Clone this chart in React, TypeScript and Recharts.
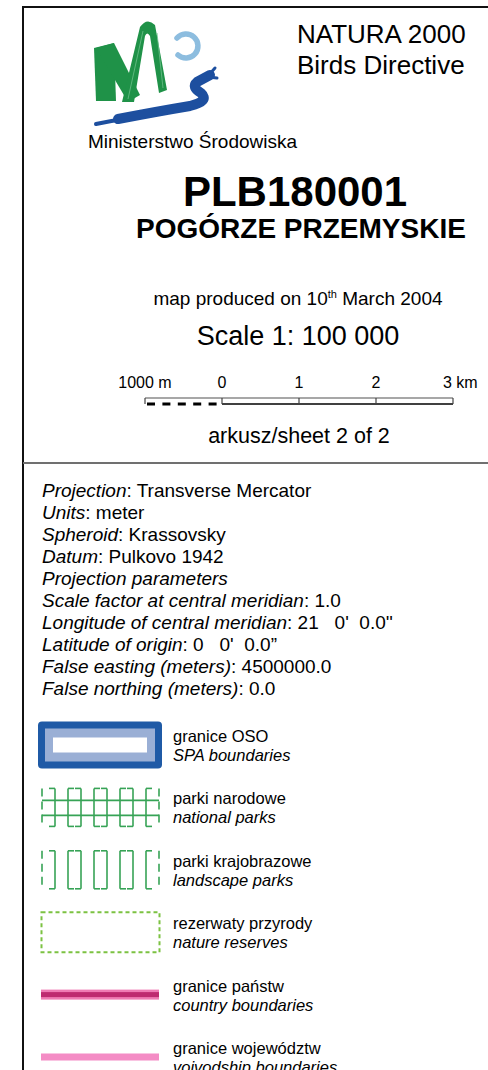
import React from "react";
import { ComposedChart, Line, XAxis, YAxis, ReferenceLine } from "recharts";

const FONT = '"Liberation Sans", Arial, Helvetica, sans-serif';

// scale bar (km)
const SCALE_KM = [-1, 0, 1, 2, 3];
const SCALE_LABELS = ["1000 m", "0", "1", "2", "3 km"];

// projection block
const PROJ_KEYS = [
  "Projection",
  "Units",
  "Spheroid",
  "Datum",
  "Projection parameters",
  "Scale factor at central meridian",
  "Longitude of central meridian",
  "Latitude of origin",
  "False easting (meters)",
  "False northing (meters)",
];
const PROJ_VALUES = [
  "Transverse Mercator",
  "meter",
  "Krassovsky",
  "Pulkovo 1942",
  "",
  "1.0",
  "21   0'  0.0''",
  "0   0'  0.0\u201d",
  "4500000.0",
  "0.0",
];

// legend
const LEGEND_PL = [
  "granice OSO",
  "parki narodowe",
  "parki krajobrazowe",
  "rezerwaty przyrody",
  "granice państw",
  "granice województw",
];
const LEGEND_EN = [
  "SPA boundaries",
  "national parks",
  "landscape parks",
  "nature reserves",
  "country boundaries",
  "voivodship boundaries",
];
const LEGEND_KIND = ["spa", "national", "landscape", "reserve", "country", "voivodship"];

const scaleRows = SCALE_KM.map((km) => ({ km, top: 1, base: km >= 0 ? 0 : null }));

const ScaleTick = (props: any) => {
  const { x, payload } = props;
  const i = SCALE_KM.indexOf(payload.value);
  const last = i === SCALE_KM.length - 1;
  return (
    <text
      x={last ? x - 10 : x}
      y={18}
      textAnchor={last ? "start" : "middle"}
      fontSize={16}
      fontFamily={FONT}
      fill="#000"
    >
      {SCALE_LABELS[i]}
    </text>
  );
};

function ScaleBar() {
  return (
    <ComposedChart
      width={390}
      height={36}
      data={scaleRows}
      margin={{ top: 0, right: 27, bottom: 2, left: 55 }}
    >
      <XAxis
        dataKey="km"
        type="number"
        domain={[-1, 3]}
        ticks={SCALE_KM}
        interval={0}
        orientation="top"
        height={28}
        axisLine={false}
        tickLine={false}
        tick={<ScaleTick />}
      />
      <YAxis type="number" domain={[0, 1]} hide />
      <Line dataKey="top" stroke="#8a8a8a" strokeWidth={1.6} dot={false} isAnimationActive={false} />
      <Line dataKey="base" stroke="#000" strokeWidth={1.5} dot={false} isAnimationActive={false} />
      <ReferenceLine
        segment={[{ x: -1, y: 0 }, { x: 0, y: 0 }]}
        stroke="#000"
        strokeWidth={3}
        strokeDasharray="8 7.4"
        strokeDashoffset={-2}
      />
      {SCALE_KM.map((km) => (
        <ReferenceLine
          key={km}
          segment={[{ x: km, y: 0 }, { x: km, y: 1 }]}
          stroke="#444"
          strokeWidth={1.2}
        />
      ))}
    </ComposedChart>
  );
}

const GREEN = "#37a356";

function ParkSymbol({ cy, national }: { cy: number; national: boolean }) {
  const top = cy - 19;
  const bot = cy + 19;
  const xs = Array.from({ length: 10 }, (_, i) => 42 + i * 13);
  return (
    <g stroke={GREEN} strokeWidth={1.6} fill="none">
      {xs.map((x, i) => {
        const edge = i === 0 || i === xs.length - 1;
        const dir = i % 2 === 0 ? 1 : -1;
        return (
          <g key={i}>
            <line x1={x} y1={top} x2={x} y2={bot} strokeDasharray={edge ? "8 5" : undefined} />
            {!edge && <line x1={x} y1={top} x2={x + dir * 6} y2={top} />}
            {!edge && <line x1={x} y1={bot} x2={x + dir * 6} y2={bot} />}
          </g>
        );
      })}
      {national && <line x1={42} y1={cy - 7} x2={159} y2={cy - 7} />}
      {national && <line x1={42} y1={cy + 8} x2={159} y2={cy + 8} />}
    </g>
  );
}

function LegendSymbol({ kind, cy }: { kind: string; cy: number }) {
  if (kind === "spa")
    return (
      <g>
        <rect x={38} y={cy - 23.5} width={124} height={47} rx={4} fill="#1f5aa6" />
        <rect x={45} y={cy - 16.5} width={110} height={33} fill="#9aafd5" />
        <rect x={53} y={cy - 7.5} width={94} height={15} fill="#fff" />
      </g>
    );
  if (kind === "national") return <ParkSymbol cy={cy} national />;
  if (kind === "landscape") return <ParkSymbol cy={cy} national={false} />;
  if (kind === "reserve")
    return (
      <rect
        x={41.5}
        y={cy - 20}
        width={118}
        height={40}
        fill="none"
        stroke="#7cc242"
        strokeWidth={2}
        strokeDasharray="4 3"
      />
    );
  if (kind === "country")
    return (
      <g>
        <rect x={41} y={cy - 5} width={118} height={10} fill="#ef7bb4" />
        <rect x={41} y={cy - 2.5} width={118} height={5} fill="#be2a70" />
      </g>
    );
  return <rect x={41} y={cy - 3.5} width={118} height={7} fill="#f48cc5" />;
}

function Logo() {
  return (
    <g>
      <path d="M94 48 L114 43 L116 101 L96 101 Z" fill="#1f9248" />
      <path d="M96 48 L114 43 L140 95 L128 102 Z" fill="#1f9248" />
      <path
        d="M122 102 L140 27 Q147 17 155 25 L167 90 L159 93 L150 36 Q147 31 145 36 L134 102 Z"
        fill="#1f9248"
      />
      <path d="M128 99 L143 31 M157 33 L163 88" stroke="#6cc08a" strokeWidth={0.8} fill="none" />
      <path
        d="M177 38 A12 12 0 1 1 178 55"
        stroke="#8dbddf"
        strokeWidth={5.5}
        fill="none"
        strokeLinecap="round"
      />
      <path d="M96 124 Q110 121 124 119" stroke="#1d4f9f" strokeWidth={4} fill="none" strokeLinecap="round" />
      <path
        d="M118 119 Q160 111 190 106 Q210 101 201 93 Q191 87 197 82 L210 75"
        stroke="#1d4f9f"
        strokeWidth={10}
        fill="none"
        strokeLinecap="round"
        strokeLinejoin="round"
      />
      <path d="M208 76 L215 68 M208 77 L217 78" stroke="#1d4f9f" strokeWidth={3} strokeLinecap="round" />
    </g>
  );
}

export default function App() {
  return (
    <div
      style={{
        position: "absolute",
        left: 0,
        top: 0,
        width: 488,
        height: 1070,
        background: "#fff",
        overflow: "hidden",
        fontFamily: FONT,
      }}
    >
      <svg width={488} height={1070} style={{ position: "absolute", left: 0, top: 0 }} fontFamily={FONT}>
        {/* frame */}
        <line x1={22} y1={7} x2={488} y2={7} stroke="#111" strokeWidth={2} />
        <line x1={23} y1={6} x2={23} y2={1070} stroke="#111" strokeWidth={2} />
        <line x1={23} y1={463} x2={488} y2={463} stroke="#707070" strokeWidth={2} />

        <Logo />

        <text x={297} y={43} fontSize={26} fill="#000">NATURA 2000</text>
        <text x={297} y={74} fontSize={26} fill="#000">Birds Directive</text>
        <text x={88} y={148} fontSize={19} fill="#000">Ministerstwo Środowiska</text>

        <text x={295} y={206} fontSize={42} fontWeight="bold" textAnchor="middle" fill="#000">
          PLB180001
        </text>
        <text x={301} y={238} fontSize={28} fontWeight="bold" textAnchor="middle" fill="#000">
          POGÓRZE PRZEMYSKIE
        </text>

        <text x={298} y={305} fontSize={19} textAnchor="middle" fill="#000">
          map produced on 10<tspan fontSize={11} dy={-7}>th</tspan>
          <tspan dy={7}> March 2004</tspan>
        </text>
        <text x={298} y={345} fontSize={27} textAnchor="middle" fill="#000">
          Scale 1: 100 000
        </text>
        <text x={299} y={443} fontSize={21.5} textAnchor="middle" fill="#000">
          arkusz/sheet 2 of 2
        </text>

        {PROJ_KEYS.map((k, i) => (
          <text key={k} x={42} y={497 + i * 22} fontSize={19} fill="#000" style={{ whiteSpace: "pre" }}>
            <tspan fontStyle="italic">{k}</tspan>
            {PROJ_VALUES[i] ? <tspan>{": " + PROJ_VALUES[i]}</tspan> : null}
          </text>
        ))}

        {LEGEND_KIND.map((kind, i) => {
          const cy = 745 + i * 62.4;
          return (
            <g key={kind}>
              <LegendSymbol kind={kind} cy={cy} />
              <text x={173} y={cy - 3} fontSize={16.5} fill="#000">{LEGEND_PL[i]}</text>
              <text x={173} y={cy + 16} fontSize={16.5} fontStyle="italic" fill="#000">
                {LEGEND_EN[i]}
              </text>
            </g>
          );
        })}
      </svg>
      <div style={{ position: "absolute", left: 90, top: 370 }}>
        <ScaleBar />
      </div>
    </div>
  );
}
